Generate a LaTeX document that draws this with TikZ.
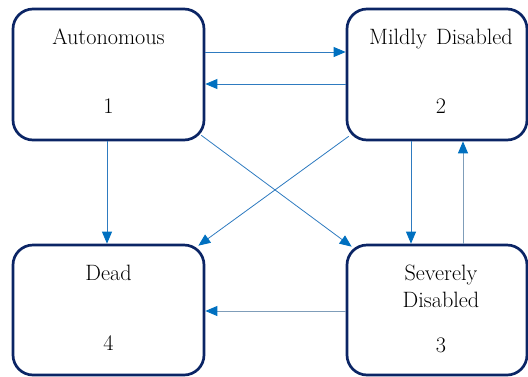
\documentclass[tikz,border=0pt]{standalone}
\usetikzlibrary{arrows.meta}
\definecolor{boxline}{HTML}{0B2565}
\definecolor{arrblue}{HTML}{0070C0}
\definecolor{linblue}{HTML}{2E7BC0}
\definecolor{grayblue}{HTML}{7F9DB9}
\tikzset{
  statebox/.style={draw=boxline, line width=2.7pt, rounded corners=20pt, inner sep=0pt, minimum height=#1, fill=white},
  lbl/.style={anchor=base, inner sep=0pt, font=\rmfamily\fontsize{22.2}{26}\selectfont, text=black},
  conn/.style={draw=linblue, line width=0.8pt, -{Triangle[length=12pt,width=10pt,color=arrblue]}},
  connb/.style={draw=grayblue, line width=0.9pt, -{Triangle[length=12pt,width=10pt,color=arrblue]}}
}
\begin{document}
\begin{tikzpicture}[x=1pt,y=-1pt]
\useasboundingbox (0,0) rectangle (528,376);
\begin{scope}
\clip (0,0) rectangle (528,376);
\node[statebox=131pt, minimum width=191pt] (b1) at (108.5,74.5) {};
\node[statebox=131pt, minimum width=180pt] (b2) at (437,74.5) {};
\node[statebox=130pt, minimum width=191pt] (b4) at (108.5,310) {};
\node[statebox=130pt, minimum width=180pt] (b3) at (437,310) {};
\end{scope}
\node[lbl] (t1) at (108.5,44) {Autonomous};
\node[lbl] (n1) at (108.5,113) {1};
\node[lbl] (t2) at (441,44) {Mildly\hspace{0.12em} Disabled};
\node[lbl] (n2) at (441,113) {2};
\node[lbl] (t4) at (108.5,280) {Dead};
\node[lbl] (n4) at (108.5,350) {4};
\node[lbl] (t3a) at (441,280) {Severely};
\node[lbl] (t3b) at (441,307) {Disabled};
\node[lbl] (n3) at (441,352) {3};
% connectors
\draw[conn] ([yshift=22.5pt]b1.east) -- ([yshift=22.5pt]b2.west);
\draw[conn] ([yshift=-9.5pt]b2.west) -- ([yshift=-9.5pt]b1.east);
\draw[conn] ([xshift=-1.5pt]b1.south) -- ([xshift=-1.5pt]b4.north);
\draw[conn] ([xshift=-26pt]b2.south) -- ([xshift=-26pt]b3.north);
\draw[connb] ([xshift=26pt]b3.north) -- ([xshift=26pt]b2.south);
\draw[connb] ([yshift=-1pt]b3.west) -- ([yshift=-1pt]b4.east);
\draw[conn] ([shift={(-4pt,6pt)}]b1.south east) -- ([shift={(6pt,-3pt)}]b3.north west);
\draw[conn] ([shift={(3pt,5pt)}]b2.south west) -- ([shift={(-7pt,-2pt)}]b4.north east);
\end{tikzpicture}
\end{document}
